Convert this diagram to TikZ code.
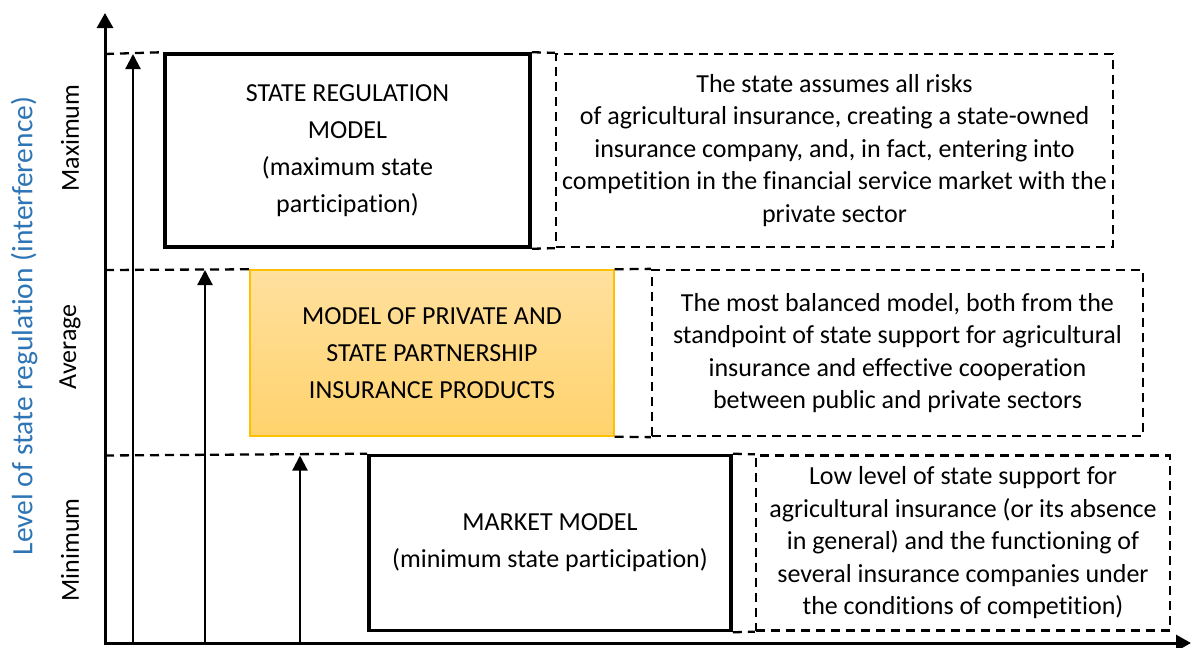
\documentclass[tikz,border=0pt]{standalone}
\usepackage{fontspec}
\setmainfont{Carlito}[Ligatures={NoCommon,NoRare}]
\usetikzlibrary{arrows.meta}
\definecolor{axisblue}{RGB}{46,117,182}
\definecolor{orangetop}{RGB}{255,224,158}
\definecolor{orangebot}{RGB}{255,210,108}
\definecolor{orangeedge}{RGB}{255,192,0}
\begin{document}
\begin{tikzpicture}[x=1pt,y=-1pt,
  axisline/.style={line width=3pt,-{Triangle[length=15pt,width=16pt]}},
  uparrow/.style={line width=2.2pt,-{Triangle[length=15pt,width=15pt]}},
  levelline/.style={line width=2.3pt,dash pattern=on 9pt off 6pt},
  modelbox/.style={draw,line width=3.6pt,fill=white,inner sep=0pt,align=center,
    font=\fontsize{26}{37}\selectfont},
  pppbox/.style={draw=orangeedge,line width=1.4pt,top color=orangetop,bottom color=orangebot,
    inner sep=0pt,align=center,font=\fontsize{26}{37}\selectfont},
  descbox/.style={draw,levelline,inner sep=0pt,align=center,
    font=\fontsize{26}{32.5}\selectfont},
  levellabel/.style={rotate=90,font=\fontsize{26}{30}\selectfont},
]
\useasboundingbox (0,0) rectangle (1192,648);

% axes
\coordinate (O) at (105,643);
\coordinate (ytop) at (105,13);
\coordinate (xend) at (1191,643);
\draw[axisline] (105,645) -- (ytop);
\draw[axisline] (O) -- (xend);

% model boxes
\node[modelbox,minimum width=365pt,minimum height=193pt] (state) at (347.5,150.5)
  {STATE REGULATION\\MODEL\\(maximum state\\participation)};
\node[pppbox,minimum width=364pt,minimum height=166pt] (ppp) at (432,353)
  {MODEL OF PRIVATE AND\\STATE PARTNERSHIP\\INSURANCE PRODUCTS};
\node[modelbox,minimum width=362pt,minimum height=175pt] (market) at (550,543)
  {MARKET MODEL\\(minimum state participation)};

% description boxes
\node[descbox,minimum width=557pt,minimum height=193pt] (dstate) at (834.5,150.5)
  {The state assumes all risks\\ of agricultural insurance, creating a state-owned\\insurance company, and, in fact, entering into\\competition in the financial service market with the\\private sector};
\node[descbox,minimum width=491pt,minimum height=166pt] (dppp) at (897.5,353)
  {The most balanced model, both from the\\standpoint of state support for agricultural\\insurance and effective cooperation\\between public and private sectors};
\node[descbox,minimum width=414pt,minimum height=175pt] (dmarket) at (963,543)
  {Low level of state support for\\agricultural insurance (or its absence\\in general) and the functioning of\\several insurance companies under\\the conditions of competition)};

% level lines
\coordinate (lmax) at (105,54);
\coordinate (lavg) at (105,270);
\coordinate (lmin) at (105,455.5);
\draw[levelline] (lmax) -- (state.north west);
\draw[levelline] (state.north east) -- (dstate.north west);
\draw[levelline] (state.south east) -- (dstate.south west);
\draw[levelline] (lavg) -- (ppp.north west);
\draw[levelline] (ppp.north east) -- (dppp.north west);
\draw[levelline] (ppp.south east) -- (dppp.south west);
\draw[levelline] (lmin) -- (market.north west);
\draw[levelline] (market.north east) -- (dmarket.north west);
\draw[levelline] (market.south east) -- (dmarket.south west);

% vertical arrows
\coordinate (a1s) at (133,643);
\coordinate (a1e) at (133,54);
\coordinate (a2s) at (205,643);
\coordinate (a2e) at (205,270);
\coordinate (a3s) at (300,643);
\coordinate (a3e) at (300,455.5);
\draw[uparrow] (a1s) -- (a1e);
\draw[uparrow] (a2s) -- (a2e);
\draw[uparrow] (a3s) -- (a3e);

% labels
\node[rotate=90,text=axisblue,font=\fontsize{29.5}{34}\selectfont] (ylabel) at (24,326)
  {Level of state regulation (interference)};
\node[levellabel] (lblmax) at (70,138) {Maximum};
\node[levellabel] (lblavg) at (70,347) {Average};
\node[levellabel] (lblmin) at (70,550) {Minimum};
\end{tikzpicture}
\end{document}
